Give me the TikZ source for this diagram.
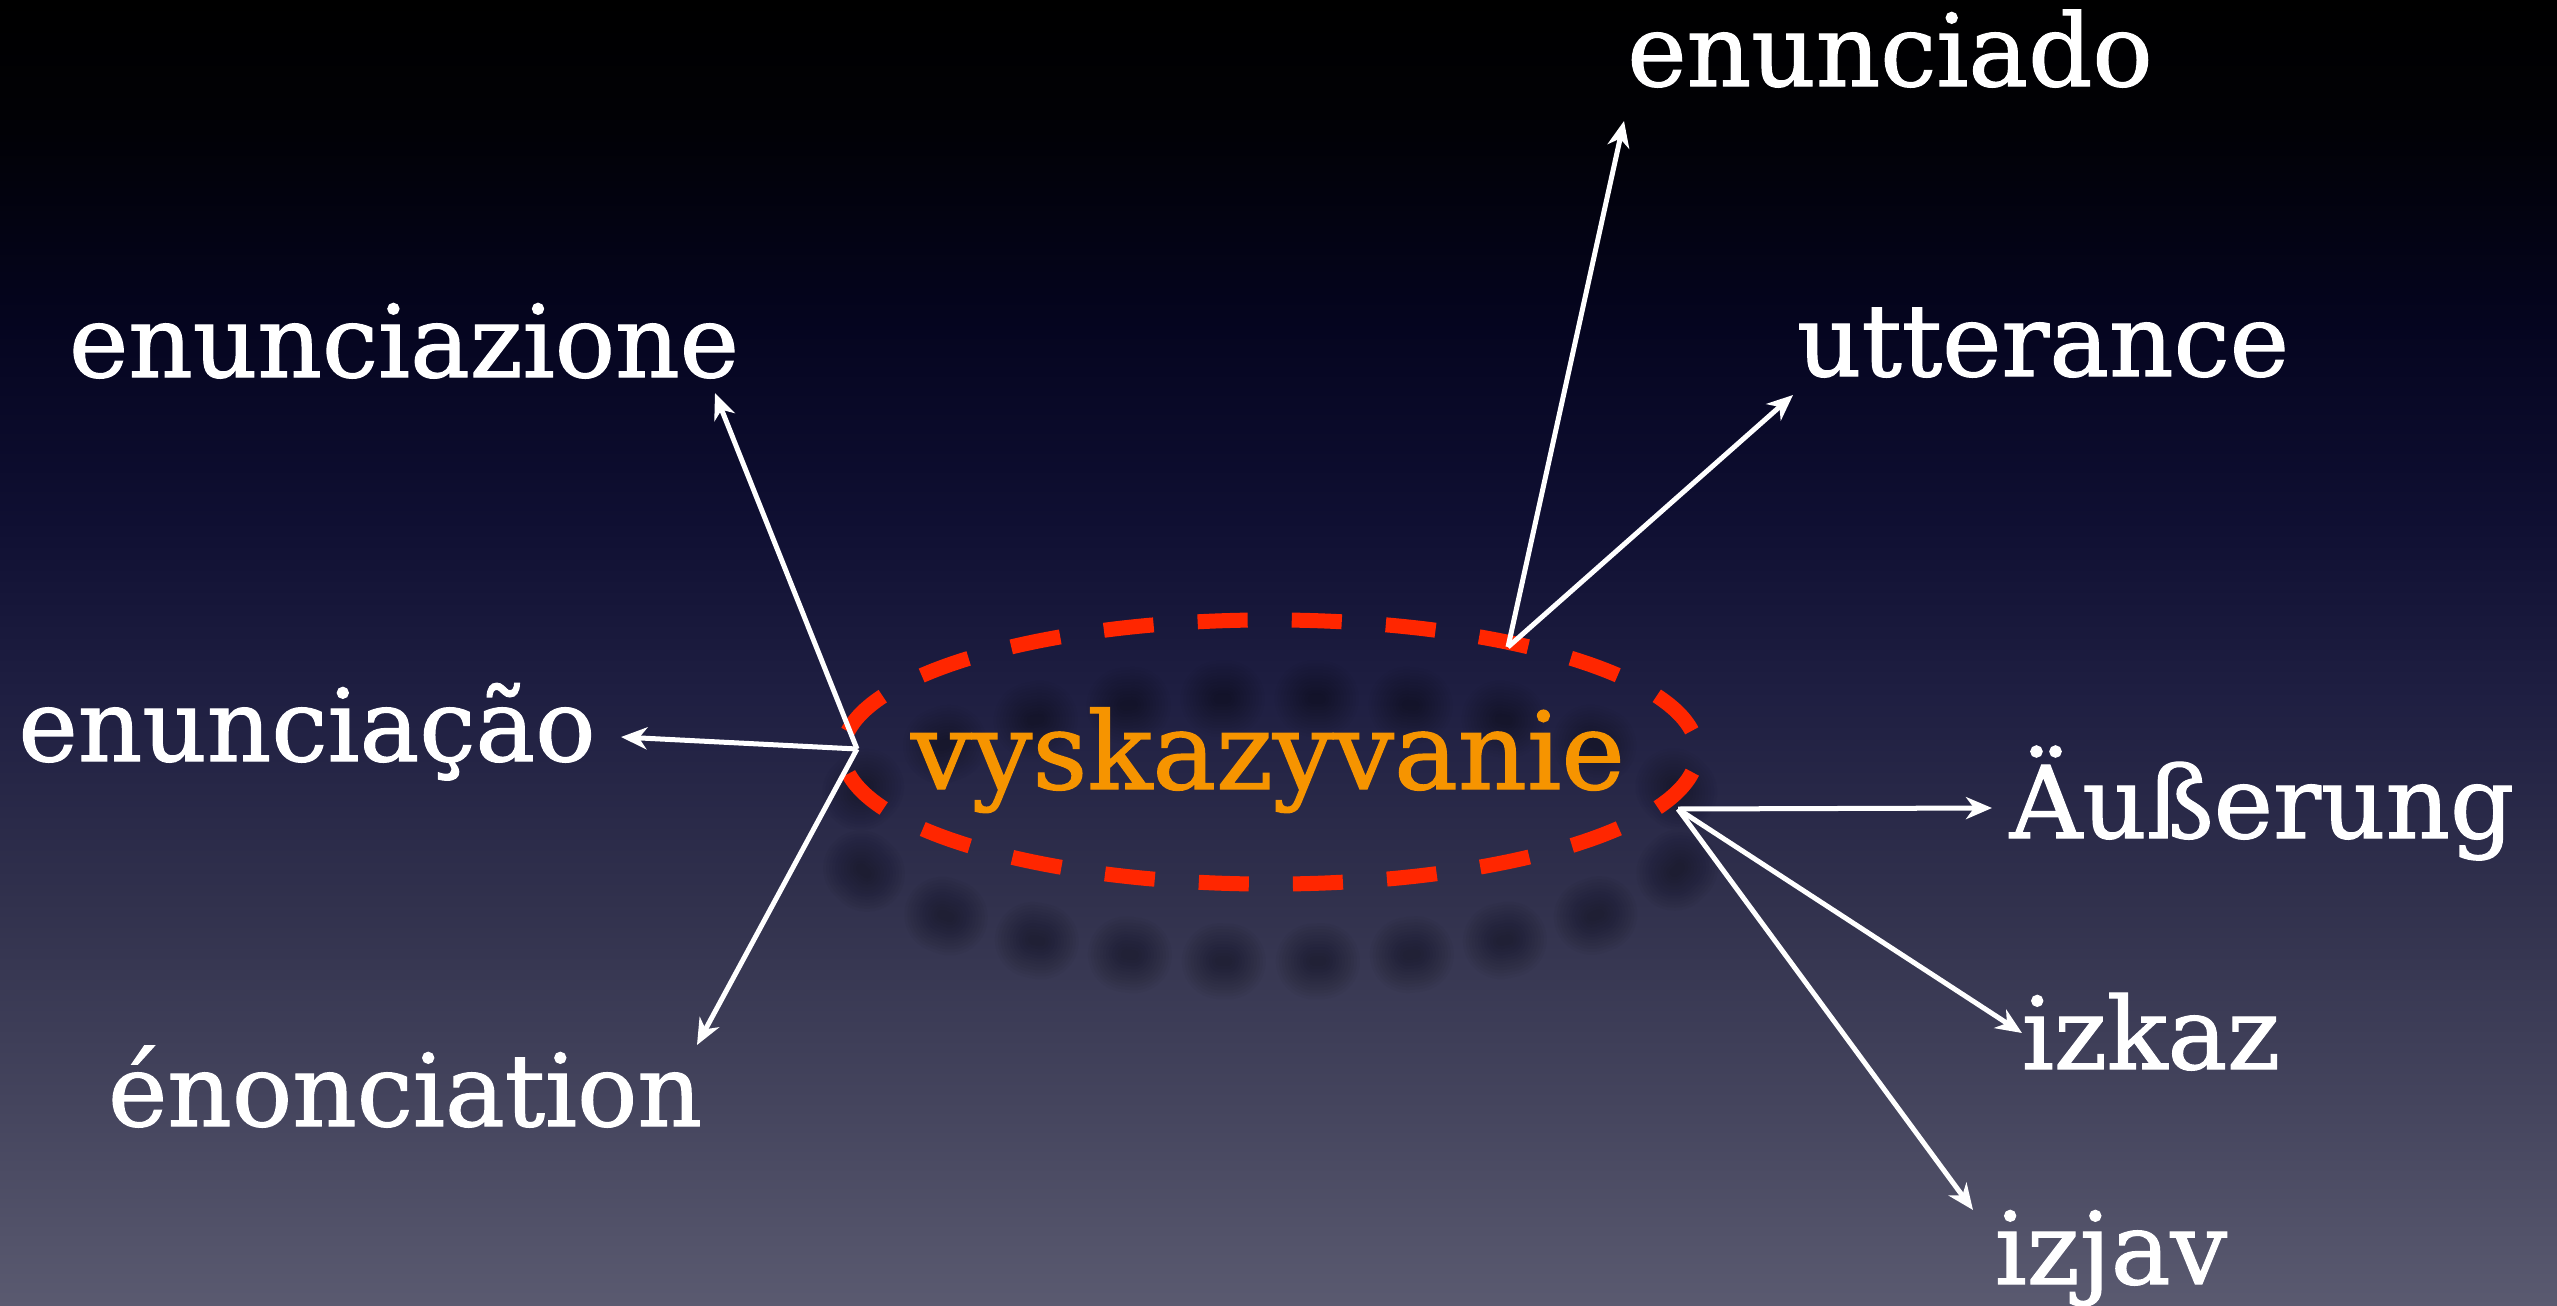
\documentclass[tikz,border=0pt]{standalone}
\usepackage{fontspec}
\setmainfont{DejaVu Serif}[FakeBold=1.2]
\newfontfamily\wordfont{DejaVu Serif}[FakeBold=1.2]
\usetikzlibrary{arrows.meta}

% slide background: black at the top fading to a greyish blue at the bottom
\definecolor{bg0}{RGB}{1,1,6}
\definecolor{bg1}{RGB}{5,5,32}
\definecolor{bg2}{RGB}{15,15,50}
\definecolor{bg3}{RGB}{31,31,66}
\definecolor{bg4}{RGB}{49,49,77}
\definecolor{bg5}{RGB}{68,68,93}
\definecolor{bg6}{RGB}{90,90,112}
\definecolor{ringred}{RGB}{255,38,0}
\definecolor{termorange}{RGB}{246,148,0}

\pgfdeclareverticalshading{slidebg}{100bp}{%
  color(0bp)=(bg6); color(25bp)=(bg6); color(32.9bp)=(bg5);
  color(40.5bp)=(bg4); color(48.2bp)=(bg3); color(55.1bp)=(bg2);
  color(62.4bp)=(bg1); color(70bp)=(bg0); color(75bp)=(black);
  color(100bp)=(black)}

\tikzset{
  word/.style={text=white, font=\wordfont\fontsize{28.5}{34}\selectfont,
    inner sep=0pt, anchor=base},
  link/.style={white, line width=0.05cm,
    -{Stealth[length=0.26cm,width=0.22cm,inset=0.08cm]}},
  ring/.style={ringred, line width=0.15cm,
    dash pattern=on 0.50cm off 0.441cm, dash phase=0.72cm},
  ringshadow/.style={black, opacity=0.028, line cap=round,
    dash pattern=on 0.08cm off 0.861cm, dash phase=0.51cm},
}

\begin{document}
\begin{tikzpicture}[x=0.01cm, y=-0.01cm]
  \useasboundingbox (0,0) rectangle (2557,1306);
  \clip (0,0) rectangle (2557,1306);
  \shade[shading=slidebg] (0,0) rectangle (2557,1306);

  % soft shadow under the dashed ring
  \foreach \w in {0.10,0.16,0.22,0.28,0.34,0.40,0.46,0.52,0.58,0.64,0.70,0.76}
    \draw[ringshadow, line width=\w cm] (1270,830)
      ellipse [x radius=4.27cm, y radius=1.32cm];

  % central term in its dashed ring
  \draw[ring] (1270,752) ellipse [x radius=4.27cm, y radius=1.32cm];
  \node[word, text=termorange, font=\wordfont\fontsize{30.5}{36}\selectfont]
    (center) at (1268,789) {vyskazyvanie};

  % translations
  \node[word] (it) at (404,377)  {enunciazione};
  \node[word] (pt) at (307,761)  {enunciação};
  \node[word] (fr) at (405,1126) {énonciation};
  \node[word] (es) at (1890,86)  {enunciado};
  \node[word] (en) at (2043,376) {utterance};
  \node[word] (de) at (2262,838) {Äußerung};
  \node[word] (bg) at (2151,1069) {izkaz};
  \node[word] (sl) at (2111,1284) {izjav};

  % hubs on the ring and arrow ends
  \coordinate (hubL)  at (857,749);
  \coordinate (hubT)  at (1508,647);
  \coordinate (hubR)  at (1678,809);
  \coordinate (tipIt) at (715,393);
  \coordinate (tipPt) at (621,737);
  \coordinate (tipFr) at (697,1045);
  \coordinate (tipEs) at (1624,121);
  \coordinate (tipEn) at (1793,395);
  \coordinate (tipDe) at (1992,808);
  \coordinate (tipBg) at (2022,1033);
  \coordinate (tipSl) at (1973,1210);

  \draw[link] (hubL) -- (tipIt);
  \draw[link] (hubL) -- (tipPt);
  \draw[link] (hubL) -- (tipFr);
  \draw[link] (hubT) -- (tipEs);
  \draw[link] (hubT) -- (tipEn);
  \draw[link] (hubR) -- (tipDe);
  \draw[link] (hubR) -- (tipBg);
  \draw[link] (hubR) -- (tipSl);
\end{tikzpicture}
\end{document}
